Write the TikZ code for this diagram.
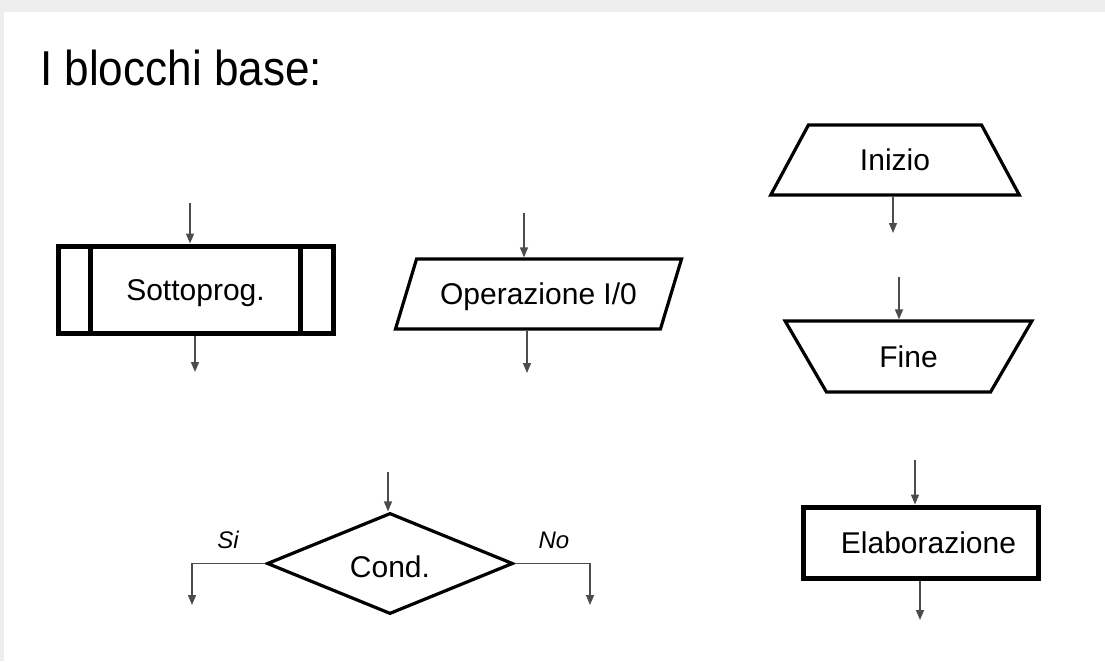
\documentclass[tikz,border=0pt]{standalone}
\usepackage{fontspec}
\setmainfont{Liberation Sans}
\newfontfamily\headfont{Liberation Sans}[FakeStretch=0.9]
\usetikzlibrary{shapes.geometric,arrows.meta}

\begin{document}
\begin{tikzpicture}[x=1pt,y=-1pt,
    lbl/.style={font=\fontsize{30}{35}\selectfont, text height=21pt, text depth=0pt, inner sep=0pt},
    box/.style={lbl, draw, line width=3.2pt},
    thickbox/.style={lbl, draw, line width=5pt},
    flow/.style={draw=black!70, line width=1.4pt, -{Triangle[length=10pt,width=8pt]}},
    tag/.style={font=\fontsize{24}{28}\selectfont\itshape, anchor=base, inner sep=0pt}]
\useasboundingbox (0,0) rectangle (1105,661);
% slide frame
\fill[black!7] (0,0) rectangle (1105,661);
\fill[white] (4,12) rectangle (1105,661);

\node[anchor=base west, inner sep=0pt, font=\headfont\fontsize{49}{54}\selectfont] (title) at (40,85) {I blocchi base:};

% subroutine
\node[thickbox, rectangle, minimum width=275pt, minimum height=87pt] (sp) at (195.5,289.5) {Sottoprog.};
\draw[line width=5pt] ([xshift=35pt]sp.north west) -- ([xshift=35pt]sp.south west)
                      ([xshift=-35pt]sp.north east) -- ([xshift=-35pt]sp.south east);
\coordinate (sp-in) at (190,203);
\coordinate (sp-out) at (195,372);
\draw[flow] (sp-in) -- (sp-in |- sp.north);
\draw[flow] (sp-out |- sp.south) -- (sp-out);

% input / output
\node[box, trapezium, trapezium left angle=51, trapezium right angle=129, trapezium stretches=true,
      minimum width=287pt, minimum height=70pt] (io) at (538.5,294) {Operazione I/0};
\coordinate (io-in) at (524,213);
\coordinate (io-out) at (527,373);
\draw[flow] (io-in) -- (io-in |- io.north);
\draw[flow] (io-out |- io.south) -- (io-out);

% start and end
\node[box, trapezium, trapezium left angle=54, trapezium right angle=54, trapezium stretches=true,
      minimum width=250pt, minimum height=70pt] (ini) at (895,160) {Inizio};
\coordinate (ini-out) at (893,233);
\draw[flow] (ini-out |- ini.south) -- (ini-out);

\node[box, trapezium, trapezium left angle=125, trapezium right angle=125, trapezium stretches=true,
      minimum width=249pt, minimum height=71pt] (fin) at (908.5,356.5) {Fine};
\coordinate (fin-in) at (899,277);
\draw[flow] (fin-in) -- (fin-in |- fin.north);

% processing
\node[thickbox, rectangle, minimum width=235pt, minimum height=71pt] (ela) at (920.5,542.5) {\hspace{16pt}Elaborazione};
\coordinate (ela-in) at (915,460);
\coordinate (ela-out) at (920,620);
\draw[flow] (ela-in) -- (ela-in |- ela.north);
\draw[flow] (ela-out |- ela.south) -- (ela-out);

% decision
\node[box, diamond, minimum width=246pt, minimum height=93pt] (cond) at (390,563.5) {\raisebox{-3pt}{Cond.}};
\coordinate (cond-in) at (388,472);
\coordinate (si) at (192,605);
\coordinate (no) at (590,605);
\draw[flow] (cond-in) -- (cond-in |- cond.north);
\draw[flow] (cond.west) -| (si);
\draw[flow] (cond.east) -| (no);
\node[tag] (si-lbl) at (228,548) {Si};
\node[tag] (no-lbl) at (554,548) {No};
\end{tikzpicture}
\end{document}
